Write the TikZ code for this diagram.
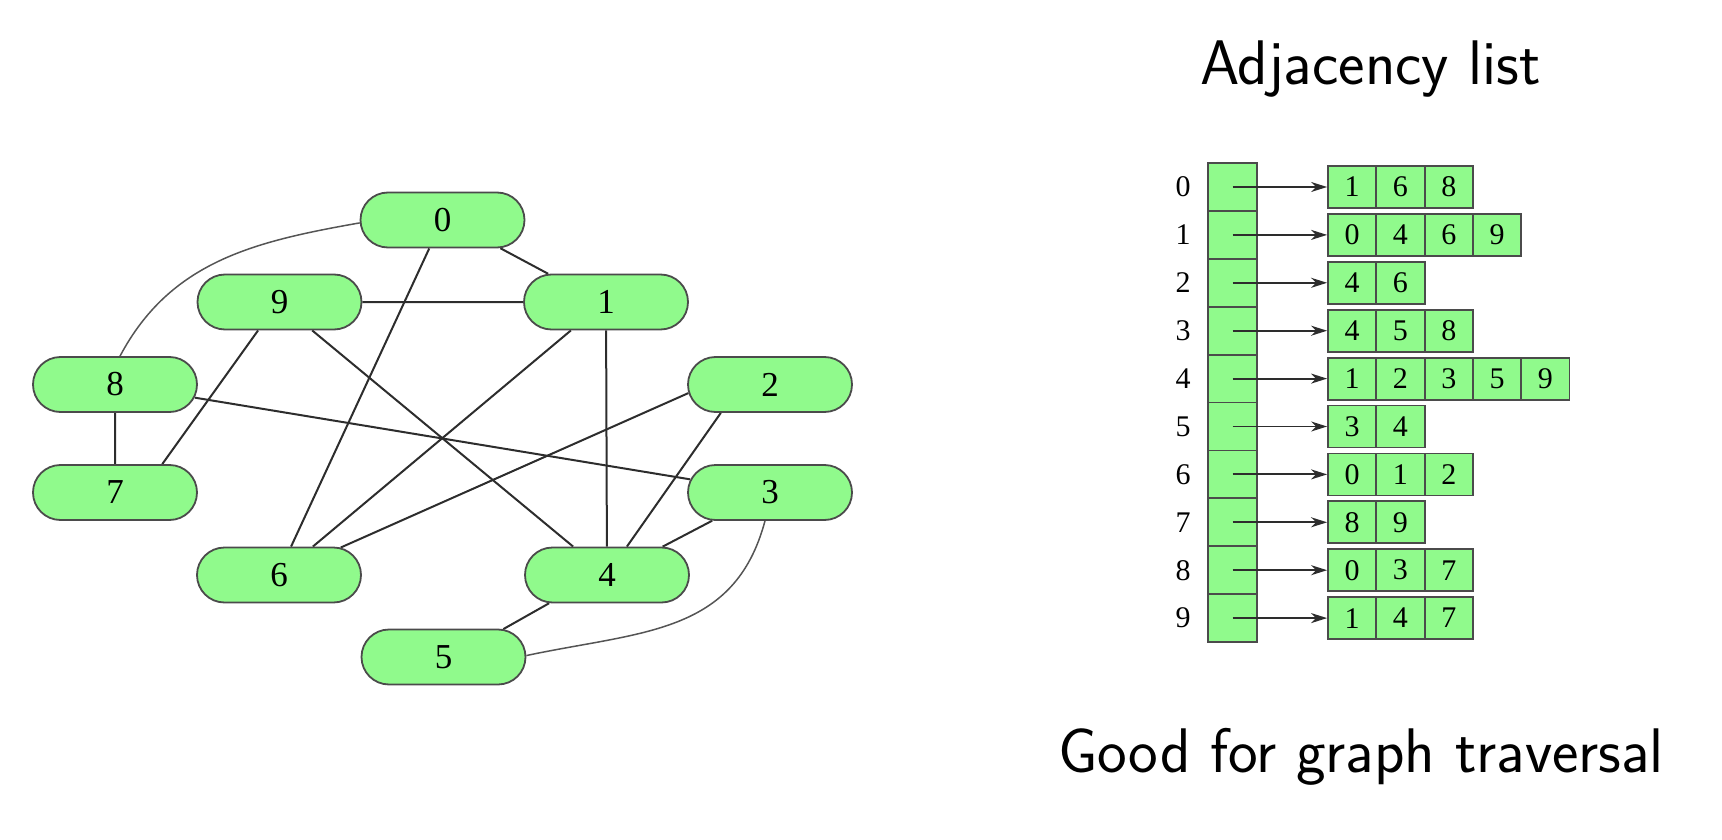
\documentclass[tikz,border=0pt]{standalone}
\usepackage{fontspec}
\newfontfamily\numfont{Liberation Serif}
\usetikzlibrary{shapes.misc,arrows.meta}
\pgfdeclarelayer{bg}
\pgfsetlayers{bg,main}
\definecolor{nodegreen}{RGB}{144,250,140}
\definecolor{edgecol}{RGB}{45,45,45}
\definecolor{curvecol}{RGB}{85,85,85}
\definecolor{bordercol}{RGB}{75,75,75}
\begin{document}
\begin{tikzpicture}[x=1pt,y=1pt,
  gnode/.style={rounded rectangle, draw=bordercol, line width=1.8pt, fill=nodegreen,
    minimum width=164pt, minimum height=55pt, inner sep=0pt,
    font=\numfont\fontsize{35}{35}\selectfont},
  edge/.style={draw=edgecol, line width=2pt},
  curve/.style={draw=curvecol, line width=1.5pt},
  cell/.style={rectangle, draw=bordercol, line width=1.8pt, fill=nodegreen,
    minimum width=48.3pt, minimum height=42pt, inner sep=0pt,
    font=\numfont\fontsize{30}{30}\selectfont},
  slot/.style={rectangle, draw=bordercol, line width=1.8pt, fill=nodegreen,
    minimum width=49pt, minimum height=47.9pt, inner sep=0pt},
  idx/.style={font=\numfont\fontsize{30}{30}\selectfont, inner sep=0pt},
  arr/.style={draw=edgecol, line width=1.9pt, -{Stealth[length=16pt,width=10pt,inset=5pt]}},
  title/.style={font=\sffamily\fontsize{63}{70}\selectfont, anchor=base, inner sep=0pt}
]
\useasboundingbox (0,0) rectangle (1722,-840);

% graph nodes
\node[gnode] (n0) at (442.5,-220) {0};
\node[gnode] (n9) at (279.5,-302) {9};
\node[gnode] (n1) at (606,-302) {1};
\node[gnode] (n8) at (115,-384.5) {8};
\node[gnode] (n2) at (770,-384.5) {2};
\node[gnode] (n7) at (115,-492.5) {7};
\node[gnode] (n3) at (770,-492.5) {3};
\node[gnode] (n6) at (279,-575) {6};
\node[gnode] (n4) at (607,-575) {4};
\node[gnode] (n5) at (443.5,-657) {5};

\begin{pgfonlayer}{bg}
  \draw[edge] (n0.-26) -- (n1.154);
  \draw[edge] (n0.-115) -- (n6.67);
  \draw[edge] (n9) -- (n1);
  \draw[edge] (n9.-127) -- (n7.31);
  \draw[edge] (n9.-41) -- (n4.140);
  \draw[edge] (n1.-141) -- (n6.40);
  \draw[edge] (n1) -- (n4);
  \draw[edge] (n8) -- (n7);
  \draw[edge] (n8) -- (n3);
  \draw[edge] (n2.-174) -- (n6.24);
  \draw[edge] (n2.-150) -- (n4.55);
  \draw[edge] (n3.-154) -- (n4.27);
  \draw[edge] (n4.-154) -- (n5.25);
  \draw[curve] (n0.182) to[out=190,in=62] (n8.80);
  \draw[curve] (n3.-100) to[out=-105,in=12,looseness=1.1] (n5.1);
\end{pgfonlayer}

% adjacency list
\foreach \r in {0,...,9} {
  \node[slot] (r\r) at (1232.5,{-(187+47.9*\r)}) {};
  \node[idx] (l\r) at (1183,{-(187+47.9*\r)}) {\r};
}
\foreach \r/\lst in {0/{1,6,8},1/{0,4,6,9},2/{4,6},3/{4,5,8},4/{1,2,3,5,9},
                     5/{3,4},6/{0,1,2},7/{8,9},8/{0,3,7},9/{1,4,7}} {
  \foreach \v [count=\k] in \lst {
    \node[cell] (c\r-\k) at ({1328+48.3*(\k-0.5)},{-(187+47.9*\r)}) {\v};
  }
  \draw[arr] (r\r.center) -- (c\r-1.west);
}

\node[title] (t1) at (1370.5,-85) {Adjacency list};
\node[title] (t2) at (1361,-772) {Good for graph traversal};
\end{tikzpicture}
\end{document}
